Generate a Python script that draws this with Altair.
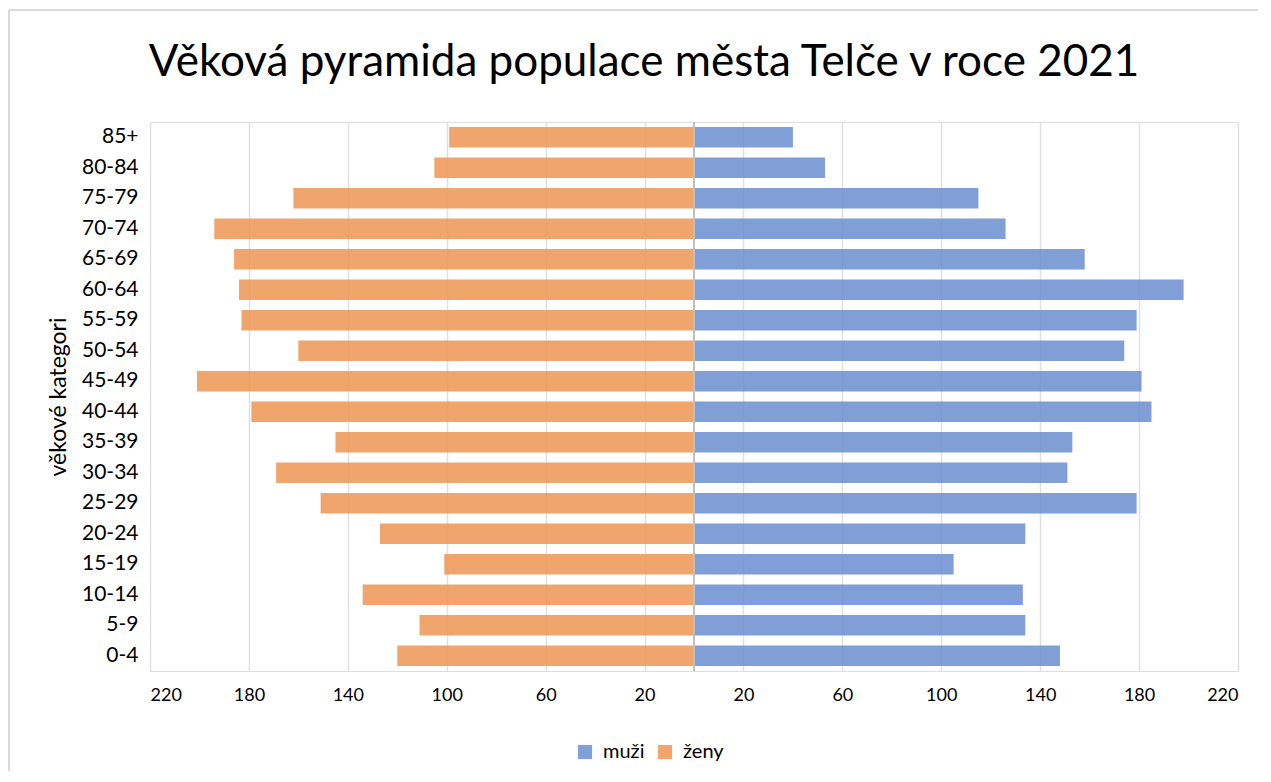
import altair as alt
import pandas as pd

ages = ["0-4", "5-9", "10-14", "15-19", "20-24", "25-29", "30-34", "35-39", "40-44",
        "45-49", "50-54", "55-59", "60-64", "65-69", "70-74", "75-79", "80-84", "85+"]
muzi = [148, 134, 133, 105, 134, 179, 151, 153, 185, 181, 174, 179, 198, 158, 126, 115, 53, 40]
zeny = [120, 111, 134, 101, 127, 151, 169, 145, 179, 201, 160, 183, 184, 186, 194, 162, 105, 99]
series = ["muži", "ženy"]
colors = ["#688ECF", "#ED9554"]
tick_values = [-220, -180, -140, -100, -60, -20, 20, 60, 100, 140, 180, 220]

rows = []
for a, m, z in zip(ages, muzi, zeny):
    rows.append({"vek": a, "pohlavi": "muži", "pocet": m})
    rows.append({"vek": a, "pohlavi": "ženy", "pocet": -z})
df = pd.DataFrame(rows)

FONT = "Lato"

y_enc = alt.Y(
    "vek:N",
    sort=list(reversed(ages)),
    scale=alt.Scale(paddingInner=0.33, paddingOuter=0.165),
    axis=alt.Axis(
        title="věkové kategori",
        titleFont=FONT, titleFontSize=23, titleFontWeight="normal", titleColor="#000",
        titleX=-80,
        labelFont=FONT, labelFontSize=21, labelColor="#000", labelPadding=12,
        ticks=False, domain=False, grid=False,
    ),
)

x_enc = alt.X(
    "pocet:Q",
    scale=alt.Scale(domain=[-220, 220], nice=False, zero=False),
    axis=alt.Axis(
        title=None,
        values=tick_values,
        labelExpr="abs(datum.value)",
        labelFont=FONT, labelFontSize=18, labelColor="#000", labelPadding=15,
        ticks=False, domain=False,
        grid=True, gridColor="#E0E0E0", gridWidth=1.5,
    ),
)

bars = alt.Chart(df).mark_bar(opacity=0.85).encode(
    x=x_enc,
    y=y_enc,
    color=alt.Color(
        "pohlavi:N",
        scale=alt.Scale(domain=series, range=colors),
        legend=alt.Legend(
            title=None, orient="none", direction="horizontal",
            legendX=425, legendY=620,
            symbolType="square", symbolSize=200, symbolStrokeWidth=0,
            symbolOpacity=0.85,
            labelFont=FONT, labelFontSize=20, labelColor="#000",
            labelOffset=8, columnPadding=10,
        ),
    ),
)

center = alt.Chart(df).mark_rule(color="#BFBFBF", strokeWidth=1.5).encode(
    x=alt.datum(0)
)

frame_left = alt.Chart(df).mark_rule(color="#D9D9D9", strokeWidth=1.5).encode(
    x=alt.value(-141), y=alt.value(-112), y2=alt.value(670)
)
frame_top = alt.Chart(df).mark_rule(color="#D9D9D9", strokeWidth=1.5).encode(
    x=alt.value(-141), x2=alt.value(1130), y=alt.value(-112)
)

chart = alt.layer(frame_left, frame_top, bars, center).properties(
    width=1088,
    height=549,
    title=alt.TitleParams(
        "Věková pyramida populace města Telče v roce 2021",
        font=FONT, fontSize=44, fontWeight="normal", color="#000",
        anchor="middle", dx=-50, offset=38, dy=149, baseline="alphabetic",
    ),
    autosize=alt.AutoSizeParams(type="none"),
    padding={"left": 142, "top": 114, "right": 20, "bottom": 100},
).configure_view(stroke=None).configure(background="white")

chart.save("out.html", embed_options={"renderer": "svg", "actions": False})
